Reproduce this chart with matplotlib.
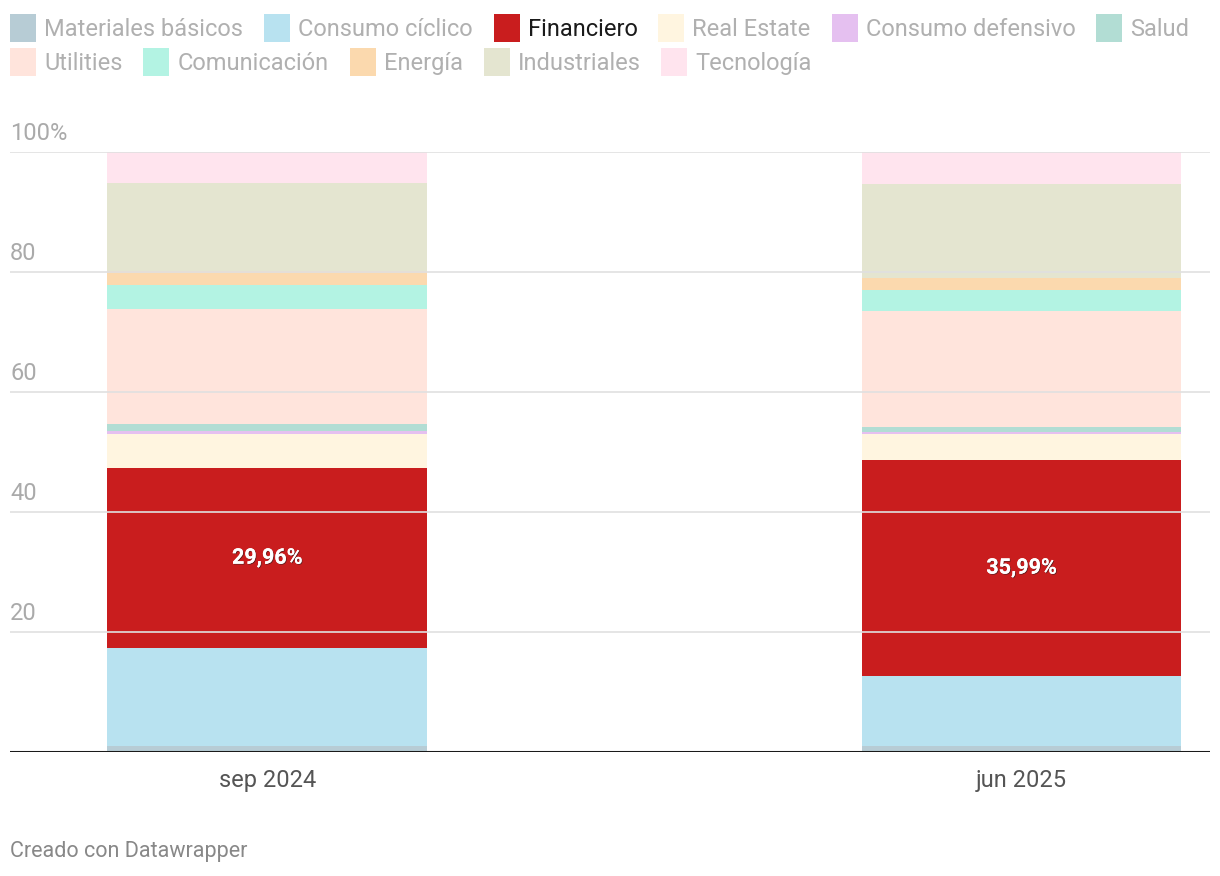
import numpy as np
import matplotlib.pyplot as plt
from matplotlib.patches import Rectangle
import matplotlib.patheffects as pe
import matplotlib.transforms as mtransforms

plt.rcParams['font.family'] = ['Roboto', 'DejaVu Sans']

### Data ###
periods = ['sep 2024', 'jun 2025']
sectors = ['Materiales básicos', 'Consumo cíclico', 'Financiero', 'Real Estate',
           'Consumo defensivo', 'Salud', 'Utilities', 'Comunicación', 'Energía',
           'Industriales', 'Tecnología']
sep_2024 = [1.0, 16.4, 29.96, 5.7, 0.45, 1.17, 19.16, 4.0, 2.33, 14.7, 5.13]
jun_2025 = [1.0, 11.72, 35.99, 4.3, 0.33, 0.83, 19.33, 3.55, 2.0, 15.67, 5.28]
colors = ['#b7ccd5', '#b8e2f0', '#c91d1e', '#fff5e0', '#e5c0f0', '#b2ddd4',
          '#ffe4dc', '#b3f3e3', '#fbd9ae', '#e4e5d0', '#ffe4ee']
highlight = 'Financiero'
yticks = [20, 40, 60, 80, 100]

W, H = 1220, 876
fig = plt.figure(figsize=(W / 100, H / 100), dpi=100)
ax = fig.add_axes([10 / W, 1 - 752 / H, 1200 / W, 600 / H])

### Stacked bars ###
values = np.array([sep_2024, jun_2025])
x = np.arange(len(periods))
bottom = np.zeros(len(periods))
for i, name in enumerate(sectors):
    ax.bar(x, values[:, i], bottom=bottom, width=0.424, color=colors[i],
           linewidth=0, zorder=1)
    if name == highlight:
        for xi, b, v in zip(x, bottom, values[:, i]):
            ax.text(xi, b + v / 2, f"{v:.2f}%".replace('.', ','), ha='center',
                    va='center', color='white', fontsize=15.5, fontweight='bold',
                    zorder=4,
                    path_effects=[pe.withSimplePatchShadow(offset=(0.6, -0.6),
                                                           shadow_rgbFace='#222222',
                                                           alpha=0.6),
                                  pe.Normal()])
    bottom += values[:, i]

ax.set_xlim(-0.341, 1.25)
ax.set_ylim(0, 100)

# grid and y labels above lines
trans = mtransforms.blended_transform_factory(ax.transAxes, ax.transData)
for t in yticks:
    ax.axhline(t, color='#e0e0e0', linewidth=1.2, zorder=2)
    lab = f"{t}%" if t == 100 else f"{t}"
    ax.annotate(lab, xy=(0, t), xycoords=trans, xytext=(0, 5),
                textcoords='offset points', ha='left', va='bottom',
                fontsize=17, color='#aaaaaa')
ax.axhline(0, color='#1a1a1a', linewidth=2.2, zorder=3)

ax.set_yticks([])
ax.set_xticks(x)
ax.set_xticklabels(periods, fontsize=17, color='#555555')
ax.tick_params(axis='x', length=0, pad=12)
for s in ax.spines.values():
    s.set_visible(False)

### Legend (drawn by hand) ###
rows = [sectors[:6], sectors[6:]]
row_y = [28, 62]
fig.canvas.draw()
renderer = fig.canvas.get_renderer()
for r, names in enumerate(rows):
    px = 10
    for name in names:
        c = colors[sectors.index(name)]
        yc = row_y[r]
        fig.patches.append(Rectangle((px / W, 1 - (yc + 14) / H), 26 / W, 28 / H,
                                     transform=fig.transFigure, color=c, linewidth=0))
        tcol = '#1a1a1a' if name == highlight else '#b0b0b0'
        t = fig.text((px + 34) / W, 1 - (yc + 8) / H, name, fontsize=17, color=tcol,
                     ha='left', va='baseline')
        bb = t.get_window_extent(renderer)
        px = bb.x1 + 21

fig.text(10 / W, 1 - 851 / H, 'Creado con Datawrapper', fontsize=15.5,
         color='#888888', ha='left', va='center')

fig.savefig('out.png', dpi=100)
